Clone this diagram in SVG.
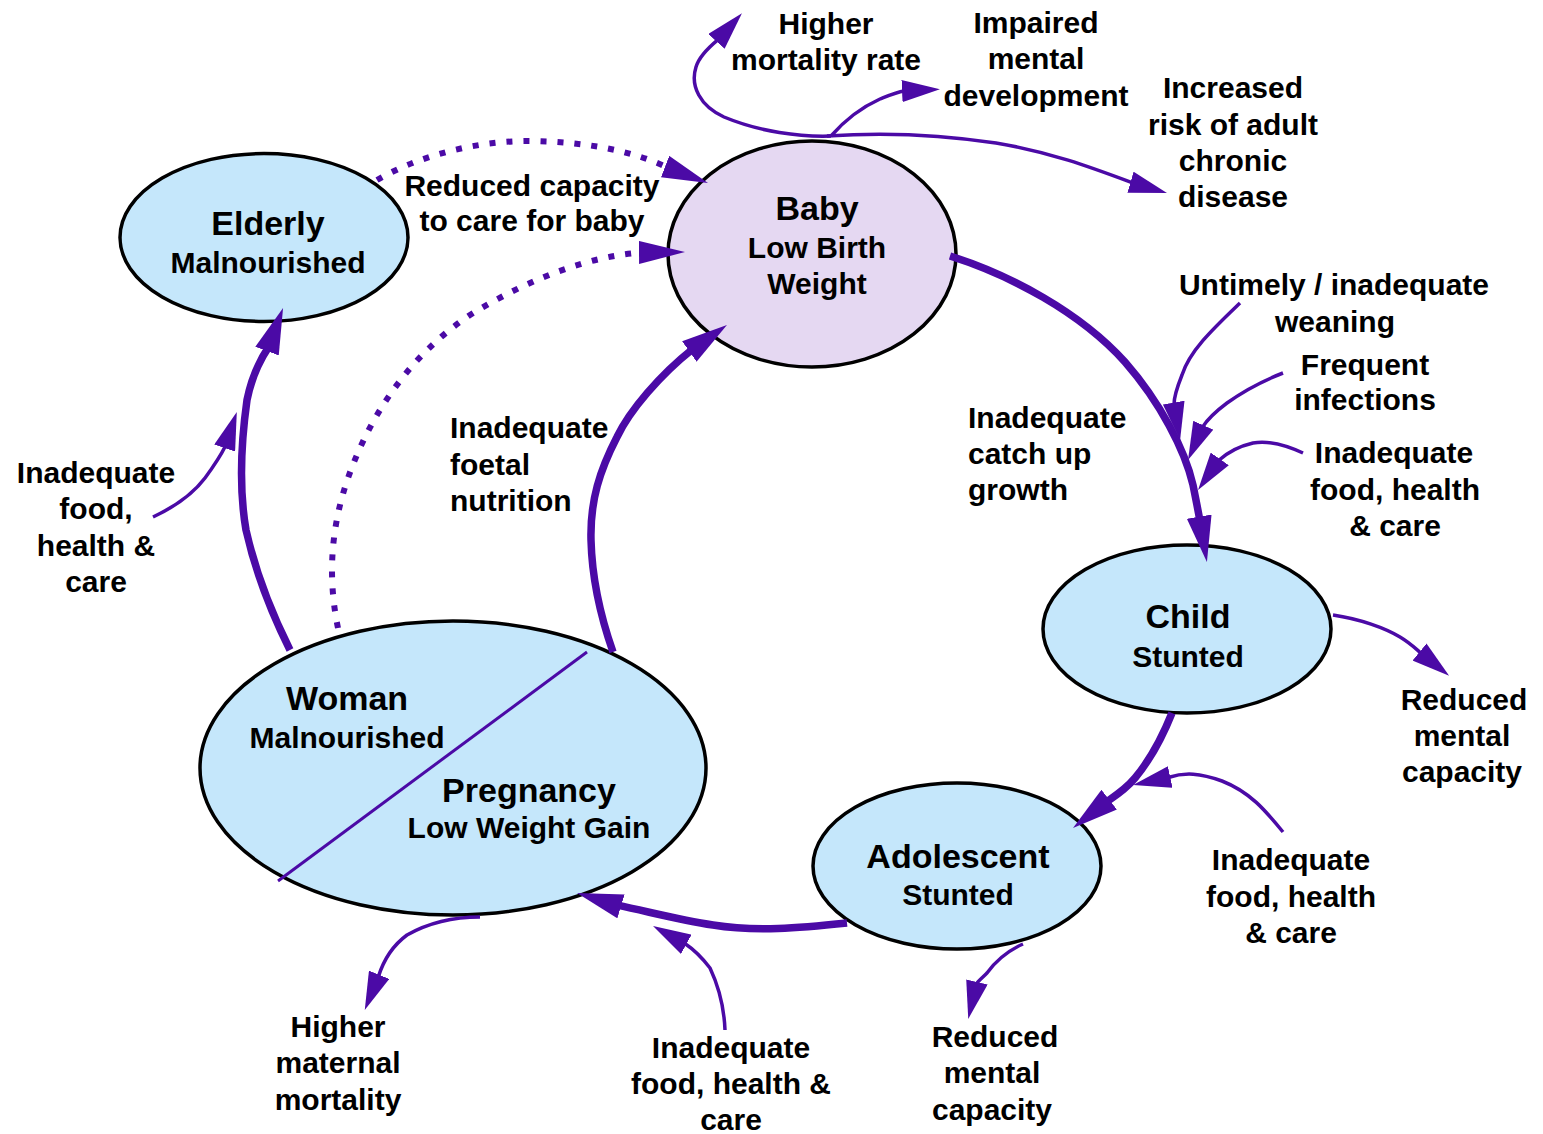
<svg xmlns="http://www.w3.org/2000/svg" width="1543" height="1134" viewBox="0 0 1543 1134">
<style>
.node ellipse{stroke:#000;stroke-width:3.5}
.blue{fill:#C5E7FB}
.lav{fill:#E5D8F2}
text{font-family:"Liberation Sans",Arial,Helvetica,sans-serif;font-weight:bold;fill:#000}
.t{font-size:34px;text-anchor:middle}
.s{font-size:30px;text-anchor:middle}
.l{font-size:30px;text-anchor:middle}
.ll{font-size:30px;text-anchor:start}
.thick{fill:none;stroke:#4B0AA6;stroke-width:7.5;stroke-linejoin:round}
.thin{fill:none;stroke:#4B0AA6;stroke-width:3.5;stroke-linejoin:round}
.dot{fill:none;stroke:#4B0AA6;stroke-width:6;stroke-dasharray:6 11}
</style>
<defs>
<marker id="hk" markerUnits="userSpaceOnUse" markerWidth="46" markerHeight="25" refX="16" refY="12.5" orient="auto" viewBox="0 0 46 25">
<path d="M0,0 L46,12.5 L0,25 z" fill="#4B0AA6"/>
</marker>
<marker id="hd" markerUnits="userSpaceOnUse" markerWidth="46" markerHeight="23" refX="16" refY="11.5" orient="auto" viewBox="0 0 46 23">
<path d="M0,0 L46,11.5 L0,23 z" fill="#4B0AA6"/>
</marker>
<marker id="ht" markerUnits="userSpaceOnUse" markerWidth="38" markerHeight="22" refX="12" refY="11" orient="auto" viewBox="0 0 38 22">
<path d="M0,0 L38,11 L0,22 z" fill="#4B0AA6"/>
</marker>
</defs>
<rect width="1543" height="1134" fill="#fff"/>

<g id="elderly" class="node">
<ellipse class="blue" cx="264" cy="237.5" rx="144" ry="84"/>
<text class="t" x="268" y="235">Elderly</text>
<text class="s" x="268" y="273">Malnourished</text>
</g>

<g id="baby" class="node">
<ellipse class="lav" cx="812" cy="254" rx="144" ry="113"/>
<text class="t" x="817" y="220">Baby</text>
<text class="s" x="817" y="258">Low Birth</text>
<text class="s" x="817" y="294">Weight</text>
</g>

<g id="child" class="node">
<ellipse class="blue" cx="1187" cy="629" rx="144" ry="84"/>
<text class="t" x="1188" y="628">Child</text>
<text class="s" x="1188" y="667">Stunted</text>
</g>

<g id="adolescent" class="node">
<ellipse class="blue" cx="957" cy="866" rx="144" ry="83"/>
<text class="t" x="958" y="868">Adolescent</text>
<text class="s" x="958" y="905">Stunted</text>
</g>

<g id="woman" class="node">
<ellipse class="blue" cx="453" cy="768" rx="253" ry="147"/>
<line x1="587" y1="652" x2="278" y2="881" stroke="#4B0AA6" stroke-width="3"/>
<text class="t" x="347" y="710">Woman</text>
<text class="s" x="347" y="748">Malnourished</text>
<text class="t" x="529" y="802">Pregnancy</text>
<text class="s" x="529" y="838">Low Weight Gain</text>
</g>

<g id="connectors">
<path class="thick" marker-end="url(#hk)" d="M950,256 C1010,275 1080,312 1125,362 C1160,402 1185,450 1193,485 C1196,500 1198,510 1199.9,520.6 L1201.9,532.4"/>
<path class="thick" marker-end="url(#hk)" d="M1172,713 C1162,738 1150,760 1135,778 C1125,790 1115,796 1106,802.1 L1096.6,809.5"/>
<path class="thick" marker-end="url(#hk)" d="M847,923 C800,928 755,932 713,925 C680,920 650,912 617.2,905.2 L605.7,901.7"/>
<path class="thick" marker-end="url(#hk)" d="M613,652 C600,615 592,580 591,540 C590,500 600,470 617,437 C630,410 660,375 692.6,349.1 L702.4,342.2"/>
<path class="thick" marker-end="url(#hk)" d="M290,650 C270,610 255,570 246,530 C240,495 240,450 247,400 C252,375 260,360 268.4,347.4 L272.6,336.1"/>

<path class="dot" marker-end="url(#hd)" d="M377,180 C420,155 480,140 533,141 C590,142 635,152 668.8,168 L680,172.3"/>
<path class="dot" marker-end="url(#hd)" d="M338,628 C328,580 330,530 348,478 C370,415 410,355 470,315 C530,278 590,256 643,252.4 L655,252.3"/>

<path class="thin" marker-end="url(#ht)" d="M831,136 C800,137 760,132 724,117 C700,106 690,86 696,67 C699,57 708,48 717.8,39.9 L724.5,32.5"/>
<path class="thin" marker-end="url(#ht)" d="M831,136 C845,120 860,108 880,99 C890,95 897,92 904,91 L914,90.5"/>
<path class="thin" marker-end="url(#ht)" d="M827,136 C870,133 930,133 996,143 C1050,152 1090,167 1132.4,182.8 L1142,185.6"/>
<path class="thin" marker-end="url(#ht)" d="M1240,303 C1215,327 1190,350 1182,375 C1176,390 1174,398 1174,404.5 L1175.7,414.4"/>
<path class="thin" marker-end="url(#ht)" d="M1283,373 C1265,380 1245,390 1227,403 C1215,412 1207,420 1202.5,427.1 L1198.5,436.2"/>
<path class="thin" marker-end="url(#ht)" d="M1303,453 C1290,447 1270,440 1253,443 C1240,446 1228,452 1218.6,460.5 L1212.9,468.7"/>
<path class="thin" marker-end="url(#ht)" d="M1333,615 C1360,619 1385,628 1400,637 C1410,643 1415,648 1421.1,653.2 L1428.9,659.5"/>
<path class="thin" marker-end="url(#ht)" d="M1283,832 C1265,810 1250,792 1222,781 C1200,773 1185,772 1168.2,777.5 L1158.5,779.6"/>
<path class="thin" marker-end="url(#ht)" d="M1023,944 C1005,952 995,962 987,973 C982,978 978,981 976.5,983.8 L974.2,993.6"/>
<path class="thin" marker-end="url(#ht)" d="M725,1030 C724,1005 718,985 710,968 C700,955 693,949 684.5,943.3 L675.8,938.5"/>
<path class="thin" marker-end="url(#ht)" d="M480,917 C455,917 430,922 407,935 C392,946 383,962 378.4,976.6 L374.6,985.9"/>
<path class="thin" marker-end="url(#ht)" d="M153,517 C170,509 190,498 205,478 C213,467 220,457 225.3,446.2 L228.5,436.7"/>
</g>

<g id="labels">
<text class="l" x="826" y="34">Higher</text>
<text class="l" x="826" y="70">mortality rate</text>
<text class="l" x="1036" y="33">Impaired</text>
<text class="l" x="1036" y="69">mental</text>
<text class="l" x="1036" y="106">development</text>
<text class="l" x="1233" y="98">Increased</text>
<text class="l" x="1233" y="135">risk of adult</text>
<text class="l" x="1233" y="171">chronic</text>
<text class="l" x="1233" y="207">disease</text>
<text class="l" x="532" y="196">Reduced capacity</text>
<text class="l" x="532" y="231">to care for baby</text>
<text class="l" x="1334" y="295">Untimely / inadequate</text>
<text class="l" x="1335" y="332">weaning</text>
<text class="l" x="1365" y="375">Frequent</text>
<text class="l" x="1365" y="410">infections</text>
<text class="l" x="1394" y="463">Inadequate</text>
<text class="l" x="1395" y="500">food, health</text>
<text class="l" x="1395" y="536">&amp; care</text>
<text class="ll" x="968" y="428">Inadequate</text>
<text class="ll" x="968" y="464">catch up</text>
<text class="ll" x="968" y="500">growth</text>
<text class="ll" x="450" y="438">Inadequate</text>
<text class="ll" x="450" y="475">foetal</text>
<text class="ll" x="450" y="511">nutrition</text>
<text class="l" x="96" y="483">Inadequate</text>
<text class="l" x="96" y="519">food,</text>
<text class="l" x="96" y="556">health &amp;</text>
<text class="l" x="96" y="592">care</text>
<text class="l" x="1464" y="710">Reduced</text>
<text class="l" x="1462" y="746">mental</text>
<text class="l" x="1462" y="782">capacity</text>
<text class="l" x="1291" y="870">Inadequate</text>
<text class="l" x="1291" y="907">food, health</text>
<text class="l" x="1291" y="943">&amp; care</text>
<text class="l" x="995" y="1047">Reduced</text>
<text class="l" x="992" y="1083">mental</text>
<text class="l" x="992" y="1120">capacity</text>
<text class="l" x="731" y="1058">Inadequate</text>
<text class="l" x="731" y="1094">food, health &amp;</text>
<text class="l" x="731" y="1130">care</text>
<text class="l" x="338" y="1037">Higher</text>
<text class="l" x="338" y="1073">maternal</text>
<text class="l" x="338" y="1110">mortality</text>
</g>
</svg>
